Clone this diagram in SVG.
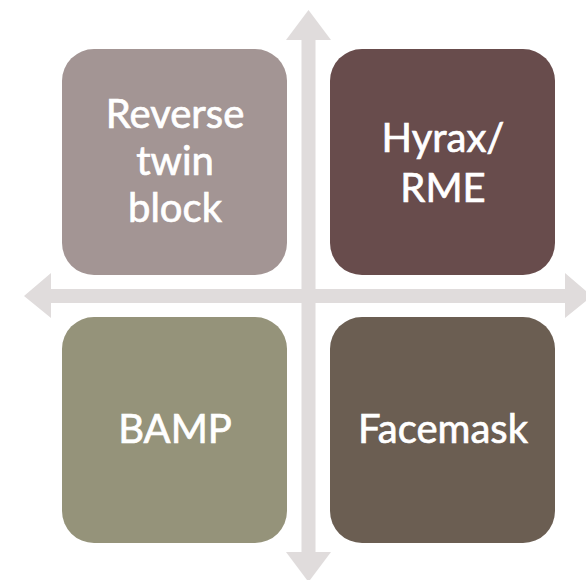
<svg xmlns="http://www.w3.org/2000/svg" width="586" height="580" viewBox="0 0 586 580">
  <style>
    .box { stroke: none; }
    .label { font-family: Lato, "Open Sans", "Liberation Sans", sans-serif; font-size: 40px; fill: #ffffff; stroke: #ffffff; stroke-width: 0.7px; text-anchor: middle; }
    .axis { fill: #e0dcdc; }
  </style>
  <rect width="586" height="580" fill="#ffffff"/>
  <!-- axes: double-headed horizontal and vertical arrows -->
  <g id="connectors">
    <path class="axis" d="M24,296 L51,273 L51,289 L565,289 L565,273 L592,296 L565,318 L565,303 L51,303 L51,318 Z"/>
    <path class="axis" d="M308.5,10 L331,40 L315.5,40 L315.5,552 L331,552 L308.5,582 L286,552 L301.5,552 L301.5,40 L286,40 Z"/>
  </g>
  <g id="reverse-twin-block">
    <rect class="box" x="62" y="49" width="225" height="226" rx="32" fill="#a39594"/>
    <text class="label" x="175" y="128">Reverse</text>
    <text class="label" x="175" y="175">twin</text>
    <text class="label" x="175" y="222">block</text>
  </g>
  <g id="hyrax-rme">
    <rect class="box" x="330" y="49" width="225" height="226" rx="32" fill="#684c4c"/>
    <text class="label" x="443" y="152">Hyrax/</text>
    <text class="label" x="443" y="202">RME</text>
  </g>
  <g id="bamp">
    <rect class="box" x="62" y="317" width="225" height="226" rx="32" fill="#95937a"/>
    <text class="label" x="175" y="443">BAMP</text>
  </g>
  <g id="facemask">
    <rect class="box" x="330" y="317" width="225" height="226" rx="32" fill="#6b5e52"/>
    <text class="label" x="443" y="443">Facemask</text>
  </g>
</svg>
